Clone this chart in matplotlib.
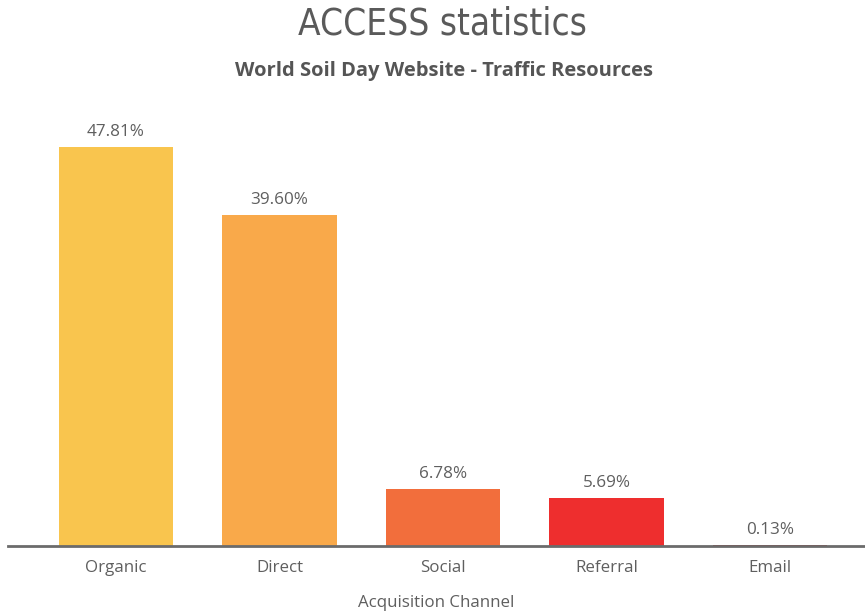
import matplotlib
matplotlib.use("Agg")
import matplotlib.pyplot as plt

channels = ["Organic", "Direct", "Social", "Referral", "Email"]
shares = [47.81, 39.60, 6.78, 5.69, 0.13]
share_labels = ["47.81%", "39.60%", "6.78%", "5.69%", "0.13%"]
bar_colors = ["#F9C54E", "#F9A94A", "#F26E3C", "#EE2E2E", "#C62828"]

text_gray = "#5f5f5f"

fig = plt.figure(figsize=(8.65, 6.14), dpi=100)
ax = fig.add_axes([8 / 865, (614 - 546) / 614, 857 / 865, 446 / 614])

x = list(range(len(channels)))
ax.bar(x, shares, width=0.70, color=bar_colors, zorder=2)

for xi, val, lab in zip(x, shares, share_labels):
    ax.text(xi, val + 0.85, lab, ha="center", va="bottom",
            fontsize=12.3, color=text_gray, family="Open Sans")

ax.set_xlim(-0.66, 4.58)
ax.set_ylim(0, 53.4)

for side in ["top", "right", "left"]:
    ax.spines[side].set_visible(False)
ax.spines["bottom"].set_color("#6b6b6b")
ax.spines["bottom"].set_linewidth(2)
ax.set_yticks([])
ax.set_xticks(x)
ax.set_xticklabels(channels, fontsize=12.2, color=text_gray, family="Open Sans")
ax.tick_params(axis="x", length=0, pad=10)
ax.set_xlabel("Acquisition Channel", fontsize=12.2, color=text_gray,
              family="Open Sans", labelpad=14)

fig.text(0.512, 1 - 24 / 614, "ACCESS statistics", ha="center", va="center",
         fontsize=26.5, color="#5a5a5a", family="DejaVu Sans",
         fontstretch="condensed", fontweight="light")
fig.text(0.513, 1 - 71 / 614, "World Soil Day Website - Traffic Resources",
         ha="center", va="center", fontsize=14.5, color="#555555",
         family="Open Sans", fontweight="bold")

fig.savefig("out.png", dpi=100)
